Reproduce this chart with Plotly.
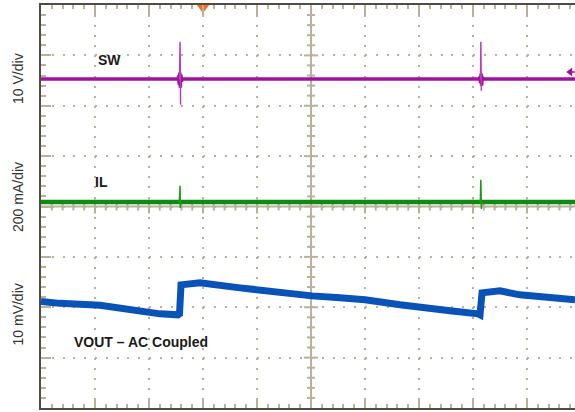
import plotly.graph_objects as go

# ---- data (screen divisions: x 0..10 time divisions, y 0..8 vertical divisions) ----
sw_time = [0.00, 2.54, 2.55, 2.56, 2.57, 2.58, 2.59, 2.60, 2.62, 8.12, 8.13, 8.14, 8.15, 8.16, 8.17, 8.19, 9.889]
sw_level = [6.53, 6.53, 6.60, 6.42, 6.66, 6.36, 6.62, 6.49, 6.53, 6.53, 6.58, 6.45, 6.64, 6.40, 6.57, 6.53, 6.53]
sw_spike_time = [2.565, 2.575, 2.585, None, 8.14, 8.145, 8.155]
sw_spike_level = [6.53, 7.27, 6.02, None, 6.53, 7.27, 6.30]

il_time = [0.00, 9.889]
il_level = [4.09, 4.09]
il_spike_time = [2.56, 2.57, 2.575, 2.58, 2.59, None, 8.135, 8.145, 8.15, 8.155, 8.165]
il_spike_level = [4.09, 4.30, 4.41, 3.97, 4.09, None, 4.09, 4.53, 4.25, 3.95, 4.09]

vout_time = [0.000, 0.352, 1.093, 1.833, 2.204, 2.537, 2.565, 2.593, 2.944, 3.685, 4.241,
             4.611, 5.019, 5.537, 6.000, 6.648, 7.019, 7.574, 8.093, 8.130, 8.167, 8.500,
             8.870, 9.241, 9.889]
vout_level = [2.117, 2.077, 2.038, 1.909, 1.869, 1.849, 1.869, 2.444, 2.484, 2.385, 2.306,
              2.266, 2.226, 2.187, 2.147, 2.048, 1.988, 1.929, 1.869, 1.849, 2.286, 2.325,
              2.246, 2.206, 2.147]

trigger_time = [3.0]
sw_ref_level = [6.67]

channel_labels = ["SW", "IL", "VOUT – AC Coupled"]
scale_labels = ["10 V/div", "200 mA/div", "10 mV/div"]

X_MAX = 534 / 54.0
TAN = "#b9b19b"
FRAME = "#4d4d45"

fig = go.Figure()

fig.add_trace(go.Scatter(x=sw_time, y=sw_level, mode="lines",
                         line=dict(color="#a0129e", width=3.5), hoverinfo="skip"))
fig.add_trace(go.Scatter(x=sw_spike_time, y=sw_spike_level, mode="lines", connectgaps=False,
                         line=dict(color="#b640b4", width=1.5), hoverinfo="skip"))
fig.add_trace(go.Scatter(x=il_time, y=il_level, mode="lines",
                         line=dict(color="#0e8c10", width=4.5), hoverinfo="skip"))
fig.add_trace(go.Scatter(x=il_spike_time, y=il_spike_level, mode="lines", connectgaps=False,
                         line=dict(color="#1c9a1c", width=1.5), hoverinfo="skip"))
fig.add_trace(go.Scatter(x=vout_time, y=vout_level, mode="lines",
                         line=dict(color="#0852b8", width=7), hoverinfo="skip"))

# trigger marker (orange) at top
fig.add_trace(go.Scatter(x=trigger_time, y=[7.95], mode="markers", cliponaxis=False,
                         marker=dict(symbol="triangle-down", size=11, color="#ff6a13"),
                         hoverinfo="skip"))
# SW reference arrow at right edge
fig.add_trace(go.Scatter(x=[9.80, X_MAX], y=sw_ref_level * 2, mode="lines",
                         line=dict(color="#a0129e", width=1.5), cliponaxis=False, hoverinfo="skip"))
fig.add_trace(go.Scatter(x=[9.80], y=sw_ref_level, mode="markers", cliponaxis=False,
                         marker=dict(symbol="triangle-left", size=8, color="#a0129e"),
                         hoverinfo="skip"))

# central cross axes with ticks
shapes = [
    dict(type="line", xref="x", yref="y", x0=5, x1=5, y0=0, y1=8,
         line=dict(color=TAN, width=2), layer="below"),
    dict(type="line", xref="x", yref="y", x0=0, x1=X_MAX, y0=4, y1=4,
         line=dict(color=TAN, width=2), layer="below"),
]
for k in range(1, 40):
    yv = k * 0.2
    half = 7 if k % 5 == 0 else 4
    shapes.append(dict(type="line", xref="x", yref="y", xsizemode="pixel", xanchor=5,
                       x0=-half, x1=half, y0=yv, y1=yv,
                       line=dict(color=TAN, width=2), layer="below"))
k = 1
while k * 0.2 < X_MAX:
    xv = k * 0.2
    half = 7 if k % 5 == 0 else 4
    shapes.append(dict(type="line", xref="x", yref="y", ysizemode="pixel", yanchor=4,
                       y0=-half, y1=half, x0=xv, x1=xv,
                       line=dict(color=TAN, width=2), layer="below"))
    k += 1

annotations = []
label_pos = [(0.129, 0.8635), (0.1137, 0.5596), (0.188, 0.1638)]
for txt, (px, py) in zip(channel_labels, label_pos):
    annotations.append(dict(text="<b>" + txt + "</b>", x=px, y=py, xref="paper", yref="paper",
                            showarrow=False, xanchor="center", yanchor="middle",
                            font=dict(family="Liberation Sans, Arial", size=14, color="#1a1a1a")))
scale_pos = [0.819, 0.5236, 0.232]
for txt, py in zip(scale_labels, scale_pos):
    annotations.append(dict(text=txt, x=-0.0431, y=py, xref="paper", yref="paper",
                            showarrow=False, textangle=-90, xanchor="center", yanchor="middle",
                            font=dict(family="Liberation Sans, Arial", size=14, color="#333333")))

fig.update_layout(
    width=575, height=412,
    margin=dict(l=41, r=0, t=5, b=4),
    paper_bgcolor="white", plot_bgcolor="white",
    showlegend=False,
    shapes=shapes, annotations=annotations,
    xaxis=dict(range=[0, X_MAX], showticklabels=False, zeroline=False,
               showline=True, linecolor=FRAME, linewidth=2, mirror="ticks",
               ticks="inside", tick0=0, dtick=1, ticklen=10, tickwidth=2, tickcolor=TAN,
               minor=dict(dtick=0.2, tick0=0, ticks="inside", ticklen=4, tickwidth=2,
                          tickcolor=TAN, showgrid=False),
               showgrid=True, gridcolor=TAN, gridwidth=1.5, griddash="2px,8.08px",
               fixedrange=True),
    yaxis=dict(range=[0, 8], showticklabels=False, zeroline=False,
               showline=True, linecolor=FRAME, linewidth=2, mirror=False,
               ticks="inside", tick0=0, dtick=1, ticklen=10, tickwidth=2, tickcolor=TAN,
               minor=dict(dtick=0.2, tick0=0, ticks="inside", ticklen=5, tickwidth=2,
                          tickcolor=TAN, showgrid=False),
               showgrid=True, gridcolor=TAN, gridwidth=1.5, griddash="2px,8.8px",
               fixedrange=True),
)

fig.write_html("out.html", config={"displayModeBar": False},
               post_script="document.body.style.margin='0';document.body.style.overflow='hidden';")
